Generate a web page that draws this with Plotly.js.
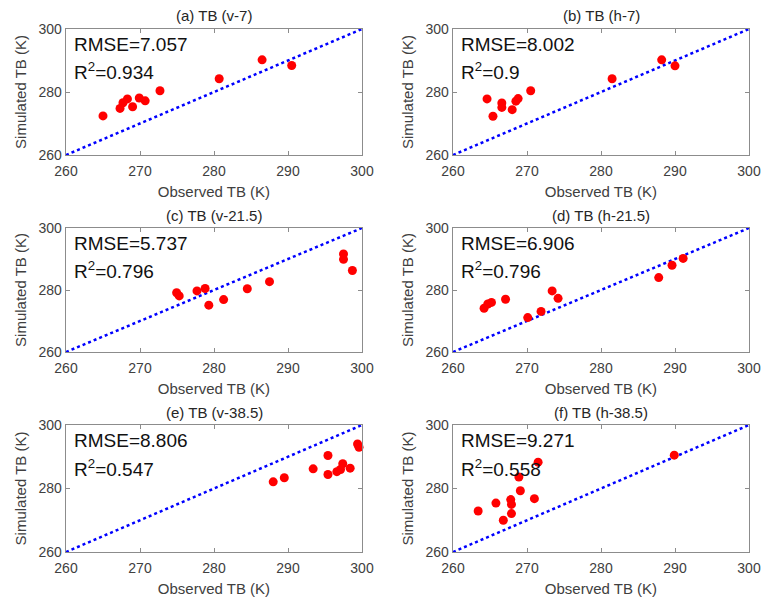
<!DOCTYPE html>
<html>
<head>
<meta charset="utf-8">
<script src="https://cdn.plot.ly/plotly-3.0.1.min.js"></script>
<style>html,body{margin:0;padding:0;background:#fff;}#chart{width:763px;height:600px;}</style>
</head>
<body>
<div id="chart"></div>
<script>
// Panel titles and statistics
var panelTitles = ["(a) TB (v-7)", "(b) TB (h-7)", "(c) TB (v-21.5)", "(d) TB (h-21.5)", "(e) TB (v-38.5)", "(f) TB (h-38.5)"];
var rmseValues = ["7.057", "8.002", "5.737", "6.906", "8.806", "9.271"];
var r2Values = ["0.934", "0.9", "0.796", "0.796", "0.547", "0.558"];

// Observed / simulated TB (K)
var obsA = [265.0, 267.3, 267.7, 268.3, 269.0, 269.9, 270.7, 272.7, 280.7, 286.5, 290.5];
var simA = [272.4, 274.8, 276.6, 277.8, 275.3, 278.1, 277.2, 280.4, 284.2, 290.2, 288.4];
var obsB = [264.6, 265.4, 266.6, 266.6, 268.0, 268.5, 268.8, 270.5, 281.5, 288.2, 290.0];
var simB = [277.8, 272.3, 276.5, 275.1, 274.4, 277.1, 277.9, 280.4, 284.2, 290.2, 288.3];
var obsC = [274.95, 275.3, 277.7, 278.8, 279.3, 281.3, 284.5, 287.5, 297.5, 297.5, 298.7];
var simC = [279.1, 278.1, 279.7, 280.5, 275.1, 276.9, 280.4, 282.7, 291.6, 289.9, 286.3];
var obsD = [264.2, 264.7, 265.2, 267.1, 270.1, 271.9, 273.4, 274.2, 287.8, 289.6, 291.1];
var simD = [274.1, 275.5, 276.0, 277.0, 271.1, 273.1, 279.7, 277.3, 284.0, 288.0, 290.2];
var obsE = [288.0, 289.5, 293.4, 295.4, 295.4, 296.6, 297.1, 297.4, 298.4, 299.4, 299.6];
var simE = [282.1, 283.4, 286.2, 290.4, 284.4, 285.3, 286.0, 287.8, 286.4, 294.0, 293.0];
var obsF = [263.4, 265.8, 266.8, 267.8, 267.9, 267.9, 268.9, 269.1, 271.0, 271.5, 289.9];
var simF = [272.9, 275.4, 270.0, 276.5, 275.0, 272.1, 283.6, 279.3, 276.8, 288.3, 290.5];

// 1:1 line and axis ticks
var oneToOne = [260, 300];
var xTicks = [260, 270, 280, 290, 300];
var yTicks = [260, 280, 300];

var obsAll = [obsA, obsB, obsC, obsD, obsE, obsF];
var simAll = [simA, simB, simC, simD, simE, simF];

var W = 763, H = 600;
var colPx = [[66, 362], [453, 749]];
var rowPx = [[29, 155], [228, 352], [425, 552]];

var traces = [];
var layout = {
  width: W, height: H,
  margin: {l: 0, r: 0, t: 0, b: 0},
  paper_bgcolor: "#ffffff",
  plot_bgcolor: "#ffffff",
  showlegend: false,
  font: {family: "Liberation Sans, Arial, sans-serif", size: 14, color: "#262626"},
  annotations: []
};

for (var i = 0; i < 6; i++) {
  var n = i + 1;
  var xa = "x" + (n === 1 ? "" : n);
  var ya = "y" + (n === 1 ? "" : n);
  var col = i % 2, row = Math.floor(i / 2);
  var cx = colPx[col], ry = rowPx[row];

  traces.push({
    x: oneToOne, y: oneToOne, xaxis: xa, yaxis: ya,
    mode: "lines", type: "scatter",
    line: {color: "#0000ff", width: 2.5, dash: "dot"},
    hoverinfo: "skip", cliponaxis: false
  });
  traces.push({
    x: obsAll[i], y: simAll[i], xaxis: xa, yaxis: ya,
    mode: "markers", type: "scatter",
    marker: {color: "#ff0000", size: 9},
    cliponaxis: false
  });

  var axCommon = {
    showgrid: false, zeroline: false,
    showline: true, linecolor: "#8c8c8c", linewidth: 1.3,
    mirror: "ticks", ticks: "inside", ticklen: 4, tickwidth: 1, tickcolor: "#8c8c8c",
    tickfont: {family: "Liberation Sans, Arial, sans-serif", size: 14, color: "#404040"},
    fixedrange: true
  };
  var xk = "xaxis" + (n === 1 ? "" : n);
  var yk = "yaxis" + (n === 1 ? "" : n);
  layout[xk] = Object.assign({}, axCommon, {
    domain: [cx[0] / W, cx[1] / W],
    anchor: ya, range: [260, 300],
    tickvals: xTicks, ticktext: xTicks.map(String),
    ticklabelstandoff: 3,
    title: {text: "Observed TB (K)", font: {family: "Liberation Sans, Arial, sans-serif", size: 15, color: "#404040"}, standoff: 8}
  });
  layout[yk] = Object.assign({}, axCommon, {
    domain: [1 - ry[1] / H, 1 - ry[0] / H],
    anchor: xa, range: [260, 300],
    tickvals: yTicks, ticktext: yTicks.map(String),
    title: {text: "Simulated TB (K)", font: {family: "Liberation Sans, Arial, sans-serif", size: 15, color: "#404040"}, standoff: 8}
  });

  layout.annotations.push({
    xref: "paper", yref: "paper",
    x: (cx[0] + cx[1]) / 2 / W, y: 1 - (ry[0] - 13) / H,
    xanchor: "center", yanchor: "middle",
    text: panelTitles[i], showarrow: false,
    font: {family: "Liberation Sans, Arial, sans-serif", size: 15, color: "#262626"}
  });
  layout.annotations.push({
    xref: xa + " domain", yref: ya + " domain",
    x: 0.02, y: 0.875, xanchor: "left", yanchor: "middle",
    text: "RMSE=" + rmseValues[i], showarrow: false,
    font: {family: "Liberation Sans, Arial, sans-serif", size: 19, color: "#111111"}
  });
  layout.annotations.push({
    xref: xa + " domain", yref: ya + " domain",
    x: 0.02, y: 0.665, xanchor: "left", yanchor: "middle",
    text: "R<sup>2</sup>=" + r2Values[i], showarrow: false,
    font: {family: "Liberation Sans, Arial, sans-serif", size: 19, color: "#111111"}
  });
}

Plotly.newPlot("chart", traces, layout, {displayModeBar: false, staticPlot: true});
</script>
</body>
</html>
